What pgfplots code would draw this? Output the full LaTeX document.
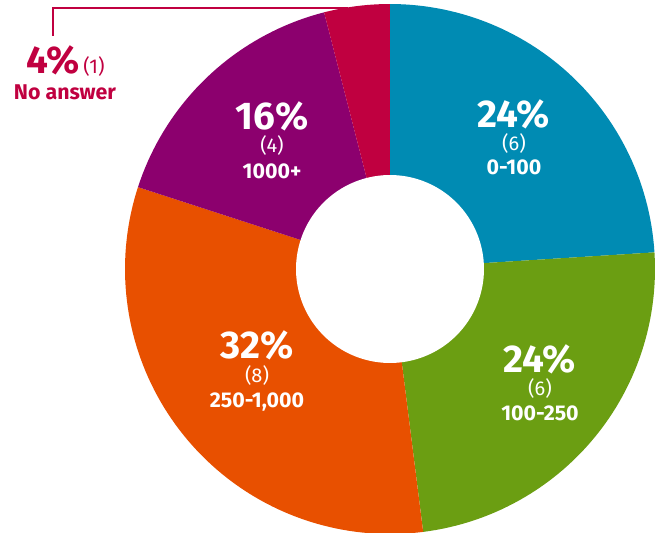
\documentclass[border=0pt]{standalone}
\usepackage{fontspec}
\setmainfont{Fira Sans}
\usepackage{pgfplots}
\pgfplotsset{compat=1.18}
\usepgfplotslibrary{polar}

\definecolor{cblue}{RGB}{0,139,179}
\definecolor{cgreen}{RGB}{107,158,18}
\definecolor{corange}{RGB}{232,80,0}
\definecolor{cpurple}{RGB}{140,0,110}
\definecolor{cred}{RGB}{192,0,64}

% counts: 0-100 = 6, 100-250 = 6, 250-1,000 = 8, 1000+ = 4, no answer = 1 (total 25)
% slices run clockwise from 12 o'clock, 14.4 degrees per answer
\begin{document}
\begin{tikzpicture}
\begin{polaraxis}[
    hide axis,
    scale only axis,
    width=397.5pt, height=397.5pt,
    ymin=0, ymax=265,
    clip=false,
]
\addplot[fill=cblue, draw=none, domain=3.6:90, samples=60] {265} -- (axis cs:0,0) -- cycle;
\addplot[fill=cgreen, draw=none, domain=-82.8:3.6, samples=60] {265} -- (axis cs:0,0) -- cycle;
\addplot[fill=corange, draw=none, domain=-198:-82.8, samples=80] {265} -- (axis cs:0,0) -- cycle;
\addplot[fill=cpurple, draw=none, domain=104.4:162, samples=40] {265} -- (axis cs:0,0) -- cycle;
\addplot[fill=cred, draw=none, domain=90:104.4, samples=15] {265} -- (axis cs:0,0) -- cycle;
% hole
\addplot[fill=white, draw=none, domain=0:360, samples=120] {94} -- cycle;
\coordinate (c) at (axis cs:0,0);
\end{polaraxis}

\begin{scope}[shift={(c)}, x=0.75pt, y=-0.75pt, shift={(-390,-269)}]
\tikzset{every node/.style={inner sep=0pt},
         pct/.style={anchor=base, text=white, font=\fontsize{29}{29}\selectfont\bfseries},
         cnt/.style={anchor=base, text=white, font=\fontsize{15}{15}\selectfont},
         cat/.style={anchor=base, text=white, font=\fontsize{16}{16}\selectfont\bfseries}}
\node[pct] at (514,128) {24\%};
\node[cnt] at (514,151) {(6)};
\node[cat] at (514,175) {0-100};

\node[pct] at (540,373) {24\%};
\node[cnt] at (540,396) {(6)};
\node[cat] at (540,421) {100-250};

\node[pct] at (257,359) {32\%};
\node[cnt] at (257,383) {(8)};
\node[cat] at (257,408) {250-1,000};

\node[pct] at (272,130) {16\%};
\node[cnt] at (272,153) {(4)};
\node[cat] at (272,179) {1000+};

\draw[cred, line width=1.5pt] (53,36) -- (53,8) -- (348,8);
\node[pct, text=cred, anchor=base west] at (26,74) {4\%};
\node[cnt, text=cred, anchor=base west] at (83,74) {(1)};
\node[cat, text=cred] at (65,100) {No answer};

\pgfresetboundingbox
\path (0,0) rectangle (662,533);
\end{scope}
\end{tikzpicture}
\end{document}
